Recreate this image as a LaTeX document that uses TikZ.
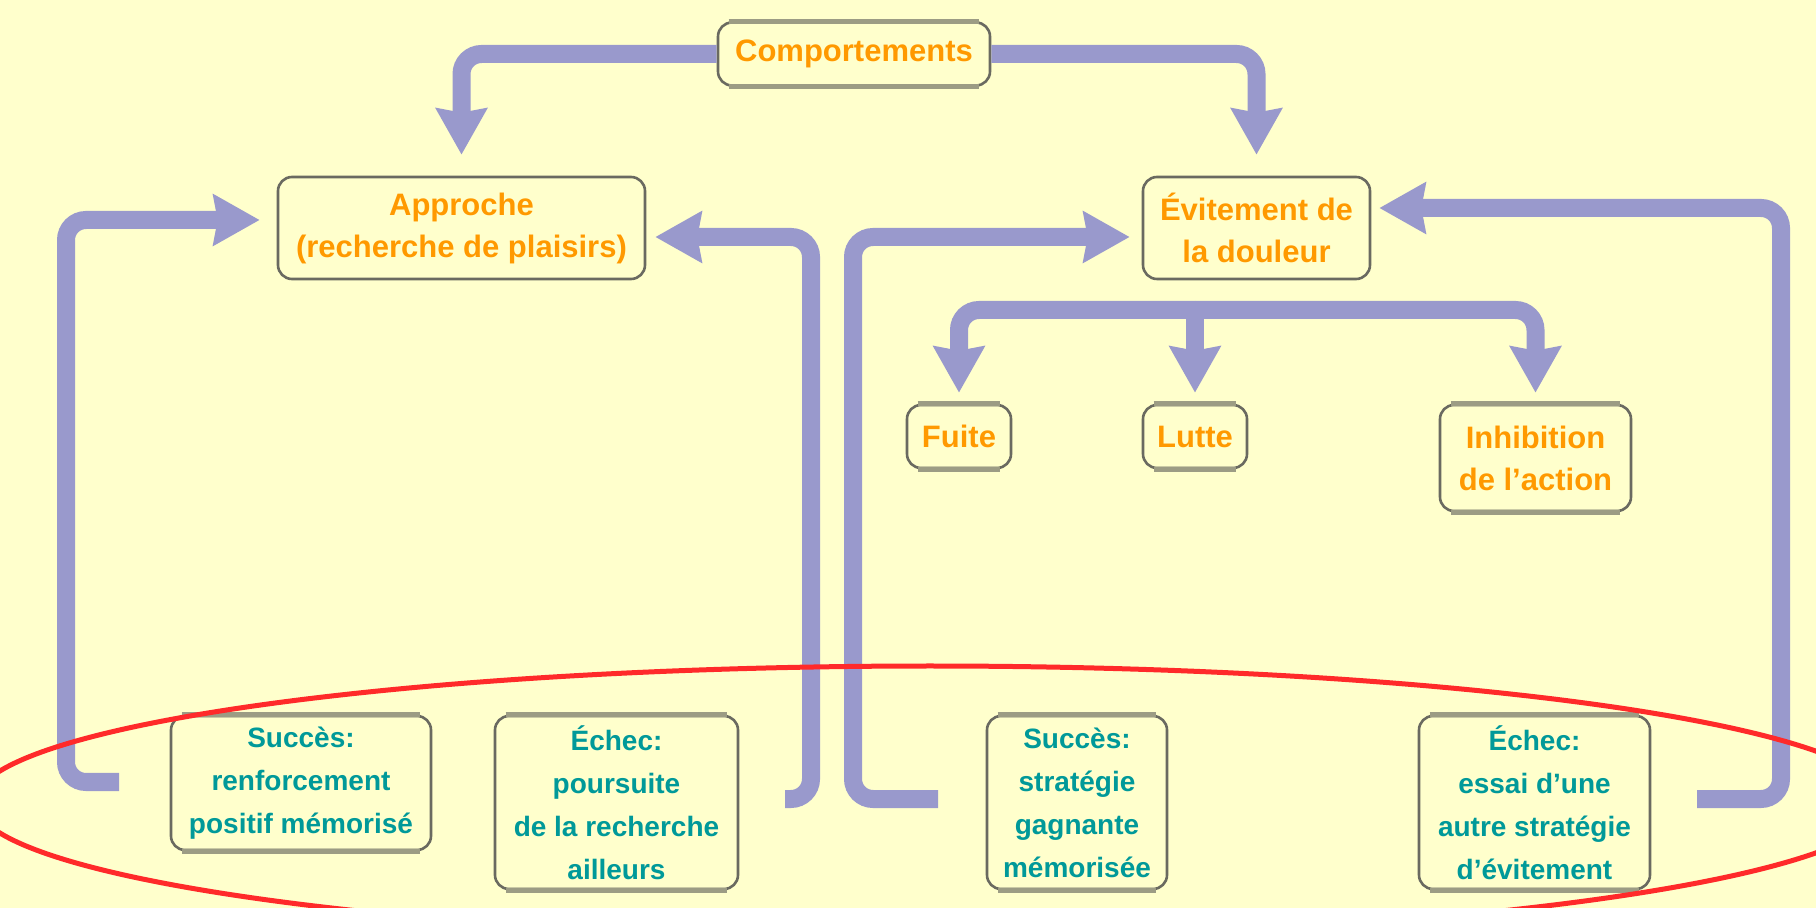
\documentclass[tikz,border=0pt]{standalone}
\usepackage{fontspec}
\setmainfont{Liberation Sans}
\usetikzlibrary{arrows.meta,calc}
\definecolor{bg}{HTML}{FFFFCC}
\definecolor{arr}{HTML}{9999CC}
\definecolor{org}{HTML}{FF9900}
\definecolor{tealc}{HTML}{009999}
\definecolor{boxc}{HTML}{6A6A60}
\definecolor{bandc}{HTML}{9C9C84}
\definecolor{redc}{HTML}{FF2A2A}
\begin{document}
\begin{tikzpicture}[x=0.5pt,y=-0.5pt,
 box/.style={draw=boxc, line width=1.3pt, rounded corners=7pt, align=center, inner sep=0pt},
 obox/.style={box, text=org, font=\bfseries\fontsize{15.5}{21}\selectfont},
 tbox/.style={box, text=tealc, font=\bfseries\fontsize{14}{21.5}\selectfont},
 band/.style={draw=bandc, line width=2.4pt},
 conn/.style={draw=arr, line width=9pt, rounded corners=10pt, -{Stealth[length=23pt,width=25pt,inset=2pt]}}]
\fill[bg] (0,0) rectangle (1816,908);
\useasboundingbox (0,0) rectangle (1816,908);

% nodes
\node[obox, minimum width=136pt, minimum height=31.5pt] (comp) at (854,54) {Comportements};
\node[obox, minimum width=183.5pt, minimum height=51pt] (appr) at (461.5,228) {Approche\\(recherche de plaisirs)};
\node[obox, minimum width=113.5pt, minimum height=51pt] (evit) at (1256.5,228) {Évitement de\\la douleur};
\node[obox, minimum width=52pt, minimum height=31.5pt] (fuite) at (959,436.5) {Fuite};
\node[obox, minimum width=52pt, minimum height=31.5pt] (lutte) at (1195,436.5) {Lutte};
\node[obox, minimum width=95.5pt, minimum height=53pt] (inhib) at (1535.5,458) {Inhibition\\de l'action};
\node[tbox, minimum width=130pt, minimum height=67pt] (succ1) at (301,783) {Succès:\\renforcement\\positif mémorisé};
\node[tbox, minimum width=121.5pt, minimum height=86.5pt] (ech1) at (616.5,802.5) {Échec:\\poursuite\\de la recherche\\ailleurs};
\node[tbox, minimum width=90pt, minimum height=86.5pt] (succ2) at (1077,802.5) {Succès:\\stratégie\\gagnante\\mémorisée};
\node[tbox, minimum width=115.5pt, minimum height=86.5pt] (ech2) at (1534.5,802.5) {Échec:\\essai d'une\\autre stratégie\\d'évitement};

% thicker top and bottom edges of the boxes
\foreach \n in {comp,fuite,lutte,inhib,succ1,ech1,succ2,ech2}{
  \draw[band] ([xshift=6pt]\n.north west) -- ([xshift=-6pt]\n.north east);
  \draw[band] ([xshift=6pt]\n.south west) -- ([xshift=-6pt]\n.south east);
}

% free ends
\coordinate (l1) at (119,782);
\coordinate (l2) at (785,799);
\coordinate (l3) at (938,799);
\coordinate (l4) at (1697,799);
\coordinate (split) at (1195,310);

% connectors
\draw[conn, shorten >=10.5pt] (comp.west) -| (appr.north);
\draw[conn, shorten >=10.5pt] (comp.east) -| (evit.north);
\draw[conn, shorten >=8.5pt] (l1) -| (66,220) -- (appr.west |- 0,220);
\draw[conn, shorten >=4.5pt] (l2) -| (811,237) -- (appr.east |- 0,237);
\draw[conn, shorten >=6pt] (l3) -| (853,237) -- (evit.west |- 0,237);
\draw[conn, shorten >=4pt] (l4) -| (1781,208) -- (evit.east |- 0,208);
\draw[conn, shorten >=5.5pt] (split) -| (fuite.north);
\draw[conn, shorten >=5.5pt] (split) -| (inhib.north);
\draw[conn, shorten >=5.5pt] (split) -- (lutte.north);

% red ellipse
\draw[redc, line width=2.5pt] (930,802) ellipse [x radius=477.5pt, y radius=68pt];
\end{tikzpicture}
\end{document}
